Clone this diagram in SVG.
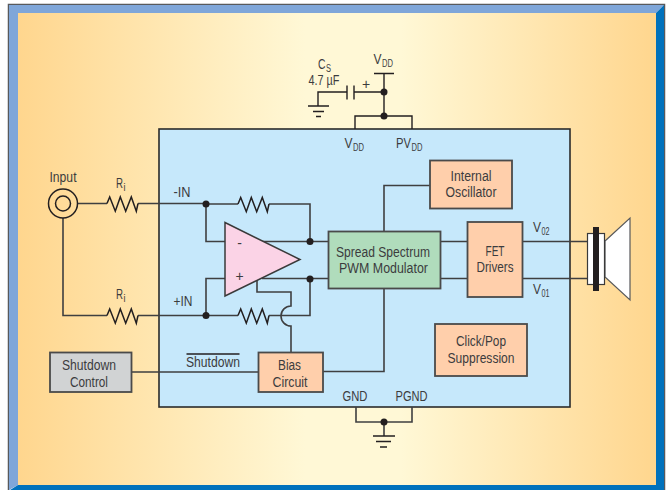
<svg xmlns="http://www.w3.org/2000/svg" width="671" height="490" viewBox="0 0 671 490">
<style>
text{font-family:"Liberation Sans",Arial,sans-serif;font-size:14px;fill:#3c3c3e;text-anchor:middle}
text.s{text-anchor:start}
text.sub{font-size:10px;text-anchor:start}
.w{fill:none;stroke:#3f3f40;stroke-width:1.6}
.k{fill:none;stroke:#231f20;stroke-width:1.4}
.box{stroke:#4a4a4a;stroke-width:1.8}
.o{fill:#FFCFAB}
.dot{fill:#231f20}
</style>
<defs>
<linearGradient id="bg" x1="0" x2="1" y1="0" y2="0">
<stop offset="0" stop-color="#FFD68E"/><stop offset="0.45" stop-color="#FFF8D6"/><stop offset="0.6" stop-color="#FFF8D6"/><stop offset="1" stop-color="#FFD68E"/>
</linearGradient>
<path id="res" d="M0 0L2.700-6.500 8.300 7.700 13.300-6.500 18.700 7.700 24.300-6.500 29.300 7.700 31 0" fill="none" stroke="#231f20" stroke-width="1.500"/>
</defs>
<rect width="671" height="490" fill="#fff"/>
<g id="frame">
<path d="M8.500 490V4.500H664.500V490" fill="none" stroke="#58595b" stroke-width="1.500"/>
<polygon points="9,5 664,5 656,13 18,13 18,485 9,490" fill="#7FA6D9"/>
<polygon points="664,5 664,490 10,490 18,485 656,485 656,13" fill="#0071BC"/>
<rect x="18" y="13" width="638" height="472" fill="url(#bg)"/>
</g>
<g id="chip"><rect x="159" y="129" width="411" height="278" fill="#C6E8FB" stroke="#2b2b2b" stroke-width="1.600"/></g>
<g id="connectors">
<path class="k" d="M374 73.500H394M384 73.500V116M355 129V116H412V129M384 92H354M347 92H318V106"/>
<path class="k" d="M347 85.500V99.500M354 85.500V99.500"/>
<path class="k" d="M308 106H329M313 111.500H324M316 116.500H321"/>
<path class="w" d="M78 203.500H107M138 203.500H206M63 218V315.500H107M138 315.500H238M269 315.500H310V279"/>
<use href="#res" x="107" y="203.500"/><use href="#res" x="107" y="315.500"/>
<path class="w" d="M206 204H238M269 204H310V241.500M206 204V241.500H225M206 315.500V278.500H225"/>
<use href="#res" x="238" y="204"/><use href="#res" x="238" y="315.500"/>
<path class="w" d="M262 241.500H328M262 278.500H328"/>
<path class="w" d="M257 280V292H291V306A10 10 0 0 0 291 326V352"/>
<path class="w" d="M441 241.500H467M441 278.500H467M522 241.500H587M522 278.500H587"/>
<path class="w" d="M384 231V185.500H430M384 288V371.500H323M132 372H258"/>
<path class="w" d="M356 407V422H412V407M384 422V436"/>
<path class="k" d="M373 436H395M376 441.500H391M380 447H387"/>
<path class="k" d="M186.500 354H239.500"/>
</g>
<g id="dots">
<circle class="dot" cx="384" cy="92" r="3.500"/><circle class="dot" cx="384" cy="116" r="3.500"/>
<circle class="dot" cx="206" cy="204" r="3.500"/><circle class="dot" cx="206" cy="315.500" r="3.500"/>
<circle class="dot" cx="310" cy="241.500" r="3.500"/><circle class="dot" cx="310" cy="279" r="3.500"/>
<circle class="dot" cx="384" cy="422" r="3.500"/>
</g>
<g id="input">
<circle cx="63" cy="203.500" r="14.500" fill="none" stroke="#231f20" stroke-width="1.500"/>
<circle cx="63" cy="203.500" r="7.500" fill="none" stroke="#231f20" stroke-width="1.500"/>
<text x="63" y="182" textLength="27" lengthAdjust="spacingAndGlyphs">Input</text>
</g>
<g id="opamp">
<polygon points="225,222.500 300,259.500 225,296" fill="#FBD3E6" stroke="#3a3a3a" stroke-width="1.500"/>
<text x="239.500" y="248">-</text><text x="239.500" y="281">+</text>
</g>
<g id="modulator"><rect class="box" x="328.500" y="231.500" width="112" height="57" fill="#B0DCBC"/>
<text x="383" y="257" textLength="94" lengthAdjust="spacingAndGlyphs">Spread Spectrum</text><text x="383.500" y="273" textLength="89" lengthAdjust="spacingAndGlyphs">PWM Modulator</text></g>
<g id="fet"><rect class="box o" x="467.500" y="222" width="55" height="75"/>
<text x="495" y="256" textLength="19" lengthAdjust="spacingAndGlyphs">FET</text><text x="495" y="272" textLength="37" lengthAdjust="spacingAndGlyphs">Drivers</text></g>
<g id="oscillator"><rect class="box o" x="430" y="160.500" width="82" height="48"/>
<text x="471" y="181" textLength="41" lengthAdjust="spacingAndGlyphs">Internal</text><text x="471" y="197" textLength="51" lengthAdjust="spacingAndGlyphs">Oscillator</text></g>
<g id="clickpop"><rect class="box o" x="435" y="324" width="92" height="52"/>
<text x="481" y="346" textLength="50" lengthAdjust="spacingAndGlyphs">Click/Pop</text><text x="481" y="363" textLength="67" lengthAdjust="spacingAndGlyphs">Suppression</text></g>
<g id="bias"><rect class="box o" x="258.500" y="352.500" width="64.500" height="39.500"/>
<text x="289.500" y="370" textLength="23" lengthAdjust="spacingAndGlyphs">Bias</text><text x="290" y="387" textLength="35" lengthAdjust="spacingAndGlyphs">Circuit</text></g>
<g id="shutdown-control"><rect class="box" x="50" y="352.500" width="81.500" height="39.500" fill="#D1D3D4"/>
<text x="89" y="370" textLength="54" lengthAdjust="spacingAndGlyphs">Shutdown</text><text x="89" y="387" textLength="38" lengthAdjust="spacingAndGlyphs">Control</text></g>
<g id="speaker">
<polygon points="605,241 630,218 630,300 605,277" fill="#fff" stroke="#58595b" stroke-width="1.200"/>
<rect x="587.500" y="233.500" width="17" height="51" fill="#fff" stroke="#3a3a3a" stroke-width="1.200"/>
<rect x="593" y="227" width="6" height="64" fill="#231f20"/>
</g>
<g id="labels">
<text class="s" x="318" y="69" textLength="7.500" lengthAdjust="spacingAndGlyphs">C</text><text class="sub" x="326" y="72" textLength="5" lengthAdjust="spacingAndGlyphs">S</text>
<text x="324" y="85" textLength="31" lengthAdjust="spacingAndGlyphs">4.7 µF</text>
<text x="366" y="89">+</text>
<text class="s" x="373.500" y="64" textLength="8" lengthAdjust="spacingAndGlyphs">V</text><text class="sub" x="382" y="67" textLength="11" lengthAdjust="spacingAndGlyphs">DD</text>
<text class="s" x="344.500" y="148" textLength="8" lengthAdjust="spacingAndGlyphs">V</text><text class="sub" x="353" y="151" textLength="11" lengthAdjust="spacingAndGlyphs">DD</text>
<text class="s" x="396" y="148" textLength="15" lengthAdjust="spacingAndGlyphs">PV</text><text class="sub" x="411.500" y="151" textLength="11" lengthAdjust="spacingAndGlyphs">DD</text>
<text class="s" x="116" y="188" textLength="7" lengthAdjust="spacingAndGlyphs">R</text><text class="sub" x="123.500" y="191" textLength="2" lengthAdjust="spacingAndGlyphs">i</text>
<text class="s" x="116" y="299" textLength="7" lengthAdjust="spacingAndGlyphs">R</text><text class="sub" x="123.500" y="302" textLength="2" lengthAdjust="spacingAndGlyphs">i</text>
<text x="182" y="197" textLength="17" lengthAdjust="spacingAndGlyphs">-IN</text>
<text x="183" y="306" textLength="19" lengthAdjust="spacingAndGlyphs">+IN</text>
<text x="213" y="367" textLength="54" lengthAdjust="spacingAndGlyphs">Shutdown</text>
<text class="s" x="533" y="232" textLength="8" lengthAdjust="spacingAndGlyphs">V</text><text class="sub" x="541.500" y="235" textLength="8" lengthAdjust="spacingAndGlyphs">02</text>
<text class="s" x="533" y="294" textLength="8" lengthAdjust="spacingAndGlyphs">V</text><text class="sub" x="541.500" y="297" textLength="8" lengthAdjust="spacingAndGlyphs">01</text>
<text x="355" y="401" textLength="25" lengthAdjust="spacingAndGlyphs">GND</text>
<text x="411.500" y="401" textLength="32" lengthAdjust="spacingAndGlyphs">PGND</text>
</g>
</svg>
